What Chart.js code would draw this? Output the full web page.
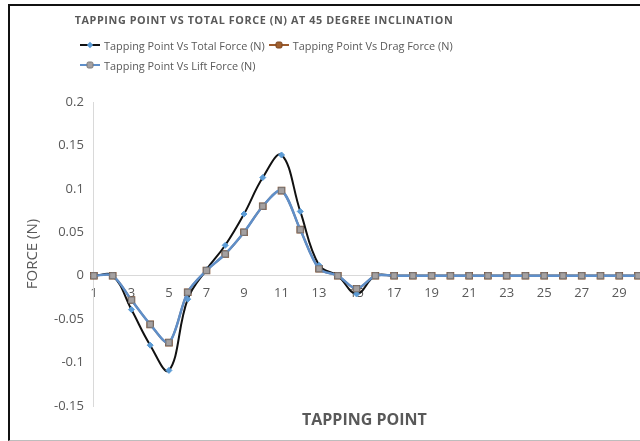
<!DOCTYPE html>
<html>
<head>
<meta charset="utf-8">
<script src="https://cdn.jsdelivr.net/npm/chart.js@4"></script>
<style>
  body { margin: 0; width: 640px; height: 441px; overflow: hidden; background: #fff; font-family: "Open Sans", sans-serif; position: relative; }
  #frame { position: absolute; left: 8px; top: 4px; width: 700px; height: 434px; border-left: 2px solid #111; border-top: 2px solid #111; border-bottom: 1px solid #bdbdbd; }
  #title { position: absolute; left: 0; width: 528px; top: 12px; text-align: center; font-weight: bold; font-size: 10.8px; letter-spacing: 0.6px; color: #595959; }
  #legend { position: absolute; left: 80px; top: 35px; font-size: 10.9px; color: #595959; }
  .row { height: 20px; display: flex; align-items: center; white-space: nowrap; }
  .item { display: flex; align-items: center; margin-right: 4px; }
  .item svg { margin-right: 4px; }
  #xtitle { position: absolute; left: 302px; top: 408px; font-weight: bold; font-size: 16px; color: #595959; }
  canvas { position: absolute; left: 0; top: 0; }
</style>
</head>
<body>
<canvas id="chart" width="648" height="441"></canvas>
<div id="frame"></div>
<div id="title">TAPPING POINT VS TOTAL FORCE (N) AT 45 DEGREE INCLINATION</div>
<div id="legend"></div>
<div id="xtitle">TAPPING POINT</div>
<script>
const tappingPoints = ["1","2","3","4","5","6","7","8","9","10","11","12","13","14","15",
  "16","17","18","19","20","21","22","23","24","25","26","27","28","29","30"];

const totalForce = [0, 0, -0.039, -0.080, -0.109, -0.027, 0.007, 0.035, 0.071, 0.113, 0.139, 0.074, 0.012, 0, -0.021,
  0, 0, 0, 0, 0, 0, 0, 0, 0, 0, 0, 0, 0, 0, 0];
const dragForce = [0, 0, -0.028, -0.056, -0.077, -0.019, 0.006, 0.025, 0.050, 0.080, 0.098, 0.053, 0.008, 0, -0.015,
  0, 0, 0, 0, 0, 0, 0, 0, 0, 0, 0, 0, 0, 0, 0];
const liftForce = [0, 0, -0.028, -0.056, -0.077, -0.019, 0.006, 0.025, 0.050, 0.080, 0.098, 0.053, 0.008, 0, -0.015,
  0, 0, 0, 0, 0, 0, 0, 0, 0, 0, 0, 0, 0, 0, 0];

const seriesNames = [
  "Tapping Point Vs Total Force (N)",
  "Tapping Point Vs Drag Force (N)",
  "Tapping Point Vs Lift Force (N)"
];

const gray = "#595959";

const datasets = [
  {
    label: seriesNames[0], data: totalForce, order: 1,
    borderColor: "#111", borderWidth: 2, tension: 0.4,
    pointStyle: "rectRot", pointRadius: 3, pointBackgroundColor: "#5b9bd5", pointBorderColor: "#5b9bd5", pointBorderWidth: 1
  },
  {
    label: seriesNames[1], data: dragForce, order: 2,
    borderColor: "#9c5b2e", borderWidth: 2, tension: 0.3,
    pointStyle: "rect", pointRadius: 4, pointBackgroundColor: "#a0602f", pointBorderColor: "#7a4420"
  },
  {
    label: seriesNames[2], data: liftForce, order: 0,
    borderColor: "#5f8fc9", borderWidth: 2.5, tension: 0.3,
    pointStyle: "rect", pointRadius: 4.2, pointBackgroundColor: "#a5a1a1", pointBorderColor: "#7b7878", pointBorderWidth: 1
  }
];

// legend built as html so the rows sit like the excel one
const legend = document.getElementById("legend");
function marker(ds) {
  let m;
  if (ds.pointStyle === "rectRot") {
    m = `<polygon points="10,1.8 13.2,5 10,8.2 6.8,5" fill="${ds.pointBackgroundColor}"/>`;
  } else {
    m = `<rect x="7" y="2" width="6" height="6" rx="1.5" fill="${ds.pointBackgroundColor}" stroke="${ds.pointBorderColor}"/>`;
  }
  return `<svg width="20" height="10"><line x1="0" y1="5" x2="20" y2="5" stroke="${ds.borderColor}" stroke-width="2"/>${m}</svg>`;
}
const rows = [[0, 1], [2]];
rows.forEach(r => {
  const row = document.createElement("div");
  row.className = "row";
  r.forEach(i => {
    row.innerHTML += `<span class="item">${marker(datasets[i])}<span>${datasets[i].label}</span></span>`;
  });
  legend.appendChild(row);
});

// the excel chart is cropped on the right, so the canvas runs a little past the window
new Chart(document.getElementById("chart"), {
  type: "line",
  data: { labels: tappingPoints, datasets: datasets },
  options: {
    responsive: false,
    animation: false,
    layout: { autoPadding: false, padding: { top: 102, bottom: 35, left: 21, right: 0 } },
    plugins: { legend: { display: false }, title: { display: false }, tooltip: { enabled: false } },
    scales: {
      x: {
        type: "category",
        position: { y: 0 },
        offset: false,
        grid: { display: false, drawTicks: false },
        border: { display: true, color: "#d9d9d9", width: 1 },
        ticks: {
          autoSkip: false, maxRotation: 0, padding: 10, color: gray,
          font: { family: "Open Sans", size: 13 },
          callback: (v, i) => (i % 2 === 0 ? tappingPoints[i] : "")
        }
      },
      y: {
        min: -0.15, max: 0.2,
        grid: { display: false, drawTicks: false },
        border: { display: true, color: "#d9d9d9", width: 1 },
        ticks: {
          stepSize: 0.05, padding: 10, color: gray,
          font: { family: "Open Sans", size: 13 },
          callback: v => String(Math.round(v * 100) / 100)
        },
        title: { display: true, text: "FORCE (N)", color: gray, font: { family: "Open Sans", size: 15 }, padding: { top: 3, bottom: 2 } }
      }
    }
  }
});
</script>
</body>
</html>
